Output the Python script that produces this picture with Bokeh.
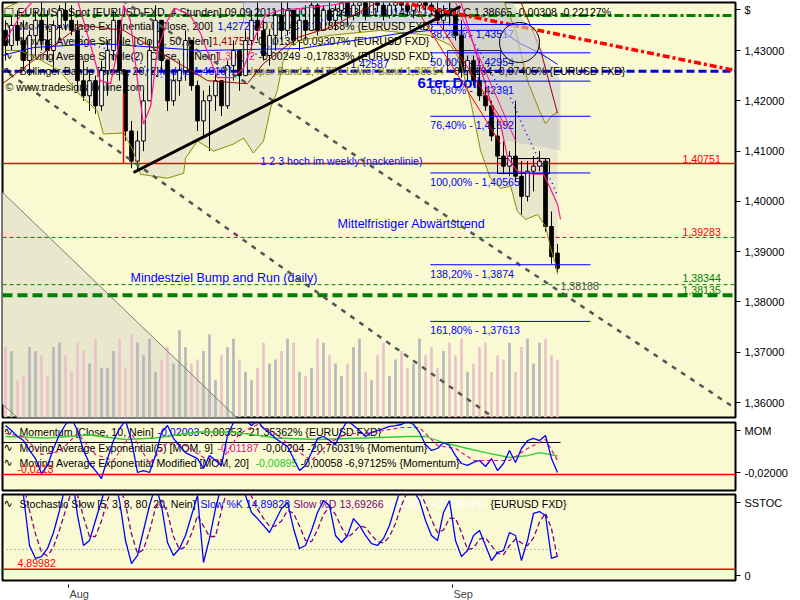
from bokeh.plotting import figure
from bokeh.layouts import column
from bokeh.models import Range1d, FixedTicker, Label, Span, CustomJSTickFormatter
from bokeh.embed import file_html
from bokeh.resources import INLINE

# ---------------- data: EUR/USD 4h candles (bar index 0..92) ----------------
opens = [1.4340,1.4310,1.4350,1.4320,1.4280,1.4330,1.4360,1.4320,1.4300,1.4350,
         1.4380,1.4360,1.4340,1.4240,1.4210,1.4240,1.4190,1.4260,1.4300,1.4360,
         1.4260,1.4140,1.4080,1.4120,1.4200,1.4300,1.4360,1.4280,1.4200,1.4240,
         1.4260,1.4320,1.4230,1.4160,1.4200,1.4210,1.4240,1.4190,1.4270,1.4300,
         1.4250,1.4320,1.4360,1.4340,1.4290,1.4330,1.4370,1.4340,1.4380,1.4320,
         1.4360,1.4340,1.4390,1.4340,1.4380,1.4360,1.4380,1.4400,1.4370,1.4390,
         1.4400,1.4370,1.4404,1.4390,1.4370,1.4390,1.4404,1.4390,1.4380,1.4390,
         1.4400,1.4390,1.4380,1.4360,1.4380,1.4370,1.4330,1.4260,1.4280,1.4240,
         1.4210,1.4190,1.4130,1.4090,1.4070,1.4090,1.4050,1.4010,1.4060,1.4070,
         1.4080,1.3950,1.3897]
highs = [1.4360,1.4370,1.4380,1.4360,1.4340,1.4380,1.4400,1.4380,1.4360,1.4390,
         1.4400,1.4390,1.4360,1.4280,1.4260,1.4250,1.4280,1.4320,1.4380,1.4360,
         1.4260,1.4160,1.4140,1.4220,1.4320,1.4390,1.4360,1.4280,1.4260,1.4280,
         1.4340,1.4320,1.4240,1.4220,1.4230,1.4260,1.4240,1.4280,1.4320,1.4300,
         1.4340,1.4380,1.4400,1.4360,1.4340,1.4380,1.4400,1.4400,1.4380,1.4370,
         1.4390,1.4400,1.4394,1.4390,1.4400,1.4390,1.4410,1.4404,1.4400,1.4410,
         1.4400,1.4410,1.4416,1.4400,1.4396,1.4410,1.4416,1.4400,1.4396,1.4410,
         1.4410,1.4400,1.4396,1.4390,1.4400,1.4380,1.4360,1.4290,1.4290,1.4280,
         1.4240,1.4200,1.4166,1.4120,1.4100,1.4200,1.4080,1.4080,1.4090,1.4100,
         1.4086,1.3980,1.3915]
lows = [1.4280,1.4300,1.4310,1.4260,1.4250,1.4290,1.4300,1.4280,1.4260,1.4320,
        1.4340,1.4330,1.4220,1.4200,1.4180,1.4174,1.4180,1.4210,1.4280,1.4240,
        1.4120,1.4066,1.4060,1.4100,1.4200,1.4300,1.4260,1.4180,1.4190,1.4210,
        1.4240,1.4220,1.4140,1.4130,1.4100,1.4180,1.4170,1.4184,1.4240,1.4220,
        1.4250,1.4300,1.4320,1.4280,1.4270,1.4300,1.4320,1.4330,1.4310,1.4300,
        1.4320,1.4340,1.4330,1.4340,1.4350,1.4340,1.4360,1.4350,1.4360,1.4370,
        1.4360,1.4370,1.4376,1.4360,1.4364,1.4376,1.4380,1.4370,1.4364,1.4376,
        1.4380,1.4370,1.4350,1.4340,1.4350,1.4320,1.4246,1.4240,1.4230,1.4200,
        1.4180,1.4120,1.4080,1.4054,1.4050,1.4040,1.3974,1.4000,1.4020,1.4060,
        1.3940,1.3876,1.3859]
closes = [1.4310,1.4350,1.4320,1.4280,1.4330,1.4360,1.4320,1.4300,1.4350,1.4380,
          1.4360,1.4340,1.4240,1.4210,1.4240,1.4190,1.4260,1.4300,1.4360,1.4260,
          1.4140,1.4080,1.4120,1.4200,1.4300,1.4360,1.4280,1.4200,1.4240,1.4260,
          1.4320,1.4230,1.4160,1.4200,1.4210,1.4240,1.4190,1.4270,1.4300,1.4250,
          1.4320,1.4360,1.4340,1.4290,1.4330,1.4370,1.4340,1.4380,1.4320,1.4360,
          1.4340,1.4390,1.4340,1.4380,1.4360,1.4380,1.4400,1.4370,1.4390,1.4400,
          1.4370,1.4404,1.4390,1.4370,1.4390,1.4404,1.4390,1.4380,1.4390,1.4400,
          1.4390,1.4380,1.4360,1.4380,1.4370,1.4330,1.4260,1.4280,1.4240,1.4210,
          1.4190,1.4130,1.4090,1.4070,1.4090,1.4050,1.4010,1.4060,1.4070,1.4080,
          1.3950,1.3890,1.3867]
volumes = [1700,1600,900,1000,1700,1600,1500,1000,1700,1800,
           1500,1100,1800,1600,1300,1900,1200,1200,1600,1900,
           1200,2000,1800,1500,1900,1100,1400,1700,1300,2100,
           1700,1300,1400,1600,2000,900,1500,1700,1900,1400,
           1100,900,1200,1800,1300,1400,1600,1900,1800,1100,
           1000,1200,1900,1800,1500,1300,1000,1300,1700,1900,
           1100,900,1500,1800,1000,1400,1600,1200,1300,1900,
           1500,1700,1200,1600,1800,1500,1900,1100,1300,1700,
           1800,1100,1500,1400,1800,1100,1700,1900,1300,1800,
           1900,1500,1400]

# Bollinger bands / moving averages (read at sparse bars)
bb_up_x = [0,5,10,15,20,25,30,35,40,45,50,55,60,65,70,75,80,83,85,87,89,90,91,92]
bb_up = [1.4385,1.4410,1.4420,1.4405,1.4440,1.4450,1.4430,1.4425,1.4435,1.4450,1.4440,1.4430,
         1.4425,1.4420,1.4420,1.4425,1.4415,1.4400,1.4340,1.4240,1.4180,1.4154,1.4170,1.4178]
bb_lo_x = [0,2.5,6,9,12.5,15.3,16.3,19.7,21.3,22.5,24.7,27,29.7,30,32,34.7,38,39.7,41.3,43,
           44.2,45.3,46.3,47.5,49.2,54,62.5,70.8,74.2,75.8,77.5,79.2,80.8,82.5,84.2,85.3,86.7,
           88.7,90,90.8,91.8,92]
bb_lo = [1.4300,1.4300,1.4280,1.4260,1.4210,1.4180,1.4134,1.4136,1.4100,1.4054,1.4050,1.4046,
         1.4056,1.4086,1.4120,1.4100,1.4114,1.4126,1.4096,1.4120,1.4186,1.4220,1.4280,1.4310,
         1.4320,1.4330,1.4340,1.4330,1.4310,1.4280,1.4200,1.4100,1.4046,1.4026,1.4030,1.3980,
         1.3964,1.3974,1.3950,1.3910,1.3870,1.3855]
bb_mid_x = [0,10,15,20,22,25,28,33,38,43,48,55,65,75,80,82,84,87,89,91,92]
bb_mid = [1.4340,1.4350,1.4310,1.4290,1.4280,1.4250,1.4240,1.4260,1.4270,1.4300,1.4340,1.4370,
          1.4380,1.4370,1.4280,1.4230,1.4210,1.4130,1.4080,1.4040,1.4011]
sma50_x = [-0.5,12.5,19.7,33.7,40.3,43,48.7,54.2,62.5,74.2,85.8,89.2,92]
sma50 = [1.4234,1.4350,1.4340,1.4240,1.4234,1.4274,1.4326,1.4346,1.4399,1.4415,1.4399,1.4300,1.4175]
ema200_x = [-0.5,4.7,15.8,32.5,49.2,54.7,65.8,70.8,82.5,85.8,89.2,92]
ema200 = [1.4290,1.4306,1.4314,1.4300,1.4304,1.4314,1.4334,1.4340,1.4340,1.4314,1.4294,1.42725]
sma9_x = [0,2.5,4.7,8.3,12,14.2,15.8,17.5,18.7,19.7,20.8,22,23,24.2,25.3,27,28.3,30.8,32.5,35.3,
          38,39.7,41.7,43.3,45.8,49.2,54.2,59.2,65.8,72.5,75.8,78.3,81.3,82.5,83.7,85.3,88,89.7,
          90.8,92,92.5]
sma9 = [1.4320,1.4370,1.4400,1.4410,1.4400,1.4310,1.4240,1.4234,1.4300,1.4390,1.4360,1.4240,
        1.4154,1.4190,1.4300,1.4360,1.4384,1.4370,1.4334,1.4246,1.4246,1.4266,1.4330,1.4370,
        1.4380,1.4384,1.4390,1.4400,1.4410,1.4410,1.4400,1.4300,1.4180,1.4154,1.4086,1.4060,
        1.4054,1.4054,1.4026,1.3994,1.3964]

# Momentum panel
momentum = [0.0113,0.0080,0.0040,0.0013,-0.0053,-0.0107,-0.0207,-0.0153,-0.0040,0.0053,
            0.0120,0.0160,0.0080,-0.0053,-0.0140,-0.0187,-0.0240,-0.0107,0.0013,0.0093,
            0.0147,0.0013,-0.0200,-0.0187,-0.0200,-0.0087,0.0067,0.0113,0.0027,-0.0020,
            -0.0067,-0.0087,-0.0107,-0.0173,-0.0087,-0.0120,-0.0153,0.0047,0.0133,0.0160,
            0.0147,0.0113,0.0147,0.0093,0.0067,0.0027,0.0000,-0.0027,-0.0107,-0.0187,
            -0.0153,-0.0067,0.0027,0.0040,0.0013,-0.0013,0.0080,0.0147,0.0113,0.0080,
            0.0040,0.0067,0.0080,0.0093,0.0107,0.0113,0.0120,0.0140,0.0120,0.0067,
            -0.0013,-0.0053,-0.0040,0.0000,-0.0020,-0.0087,-0.0140,-0.0153,-0.0133,-0.0120,
            -0.0160,-0.0107,-0.0187,-0.0140,-0.0053,-0.0133,-0.0040,0.0013,0.0027,0.0013,
            0.0047,-0.0107,-0.0200]
mom_ema_x = [0,3,6,9,12,15,18,21,24,27,30,33,36,39,42,45,48,51,54,57,60,63,66,69,72,75,78,81,84,87,90,92]
mom_ema = [0.006,0.004,-0.008,-0.006,0.006,-0.008,-0.012,0.006,-0.014,0.000,-0.002,-0.010,-0.012,
           0.006,0.012,0.006,-0.004,-0.012,0.000,0.006,0.006,0.008,0.010,0.010,-0.002,-0.004,
           -0.012,-0.012,-0.012,-0.004,0.002,-0.0119]
mom_ma_x = [0,7,14,20,25,32,38,45,52,60,67,70,73,77,80,84,87,89,92]
mom_ma = [0.004,0.003,0.005,0.002,0.003,0.007,0.007,0.003,0.002,0.003,0.004,0.004,0.000,-0.004,
          -0.0067,-0.010,-0.0087,-0.0067,-0.0090]
mom_low = -0.0213

# Stochastic panel
stoch_k = [80.8,76.9,69.2,61.5,23.1,13.1,14.6,20.8,33.1,50.0,
           69.2,80.8,46.2,23.1,26.9,42.3,57.7,73.1,76.9,57.7,
           26.9,9.2,15.4,34.6,53.8,69.2,53.8,25.4,15.4,20.8,
           30.8,46.2,61.5,10.0,28.5,51.5,69.2,80.8,76.9,73.1,
           61.5,48.5,43.8,38.5,33.1,42.3,51.5,56.2,36.2,20.8,
           23.1,34.6,48.5,57.7,53.8,30.8,25.4,30.8,43.8,38.5,
           30.8,24.6,23.1,28.5,38.5,53.8,69.2,73.1,65.4,57.7,
           42.3,30.8,26.9,48.5,57.7,26.9,14.6,19.2,30.8,34.6,
           23.1,11.5,17.7,19.2,33.1,30.8,11.5,26.9,47.7,49.2,
           46.2,13.1,14.9]
stoch_d = [75,78,76,70,50,32,18,15,22,35,
           50,65,62,45,30,30,42,58,69,70,
           55,32,17,20,34,52,58,48,30,20,
           22,32,46,38,30,30,50,67,76,77,
           70,61,51,44,38,38,42,50,48,38,
           27,26,35,47,53,47,37,29,33,38,
           37,31,26,25,30,40,54,65,69,65,
           55,43,33,35,44,44,33,20,21,28,
           29,23,17,16,23,28,25,23,29,41,
           48,36,13.7]
stoch_low = 4.89982
stoch_mid = 20

# levels and drawings (bar index, price)
neckline = 1.40751
target_red = 1.39283
target_g1 = 1.38344
target_g2 = 1.38135
target_grey = 1.38188
blue_level = 1.42587
green_top = 1.43696
fib_pct = ["38,20%", "50,00%", "61,80%", "76,40%", "100,00%", "138,20%", "161,80%"]
fib_val = [1.43517, 1.42954, 1.42391, 1.41692, 1.40565, 1.38740, 1.37613]
fib_txt = ["1,43517", "1,42954", "1,42391", "1,41692", "1,40565", "1,3874", "1,37613"]
fib_x = [70.8, 97.5]
trend_x = [21.33, 75.83]; trend_y = [1.40574, 1.43875]
diag1_x = [-0.83, 82.5]; diag1_y = [1.42662, 1.35603]
diag2_x = [19.5, 121.67]; diag2_y = [1.43994, 1.35881]
chanA_x = [-0.83, 38.67]; chanA_y = [1.40216, 1.35682]
chanB_x = [-0.83, 2.17]; chanB_y = [1.36000, 1.35682]
reddd_x = [62.5, 121.67]; reddd_y = [1.44040, 1.42602]
redv_x = [19.67, 19.67]; redv_y = [1.42145, 1.40751]
redA_x = [70.83, 83.33]; redA_y = [1.43795, 1.41509]
redB_x = [67.83, 82.5]; redB_y = [1.43954, 1.41151]
pinkC_x = [75.0, 85.0]; pinkC_y = [1.43954, 1.41210]
gch_x = [70.5, 84.5, 92.5, 92.5, 83.33]; gch_y = [1.43954, 1.43954, 1.42403, 1.41012, 1.41210]
circ_x = [85.67]; circ_y = [1.43159]
price_ticks = [1.36, 1.37, 1.38, 1.39, 1.40, 1.41, 1.42, 1.43]
month_ticks = [10.5, 74.5]
month_labels = ["Aug", "Sep"]

# ---------------- geometry helpers (pixel -> data, for annotation placement) ----------------
def PX(px): return (px - 5) / 6.0
def PY(py): return 1.43 - (py - 50) / 5029.0
def MY(py): return (442 - py) / 1500.0
def SY(py): return (575 - py) / 1.3

FONT = "Liberation Sans"
FS = "10.6px"
BG = "#fafad2"
n = len(closes)
idx = list(range(n))
xr = Range1d(PX(2), PX(735))

def fmt5(v): return f"{v:.5f}".replace(".", ",")

def make_fig(fh, top, bottom, y_start, y_end, xloc=None):
    f = figure(frame_width=733, frame_height=fh, min_border_left=2, min_border_right=63,
               min_border_top=top, min_border_bottom=bottom, x_range=xr,
               y_range=Range1d(y_start, y_end), y_axis_location="right", x_axis_location=xloc,
               toolbar_location=None, output_backend="svg", background_fill_color=BG,
               border_fill_color="white")
    f.grid.visible = False
    f.outline_line_color = "black"
    f.outline_line_width = 2
    ax = f.yaxis[0]
    ax.axis_line_color = None
    ax.major_tick_in = 0
    ax.major_tick_out = 5
    ax.minor_tick_line_color = None
    ax.major_label_standoff = 4
    ax.major_label_text_font = FONT
    ax.major_label_text_font_size = "11px"
    ax.major_label_text_color = "black"
    return f

def lab(fig, x, y, txt, color="black", size=FS, style="normal", level="underlay", font=FONT):
    fig.add_layout(Label(x=x, y=y, text=txt, text_color=color, text_font=font,
                         text_font_size=size, text_font_style=style,
                         text_baseline="middle", text_align="left", level=level))

# ================= main price panel =================
m = make_fig(415, 2, 2, PY(417), PY(2))
title_tick = PY(9)
m.yaxis.ticker = FixedTicker(ticks=price_ticks + [title_tick])
m.yaxis.formatter = CustomJSTickFormatter(
    args=dict(tt=title_tick),
    code="if (Math.abs(tick - tt) < 1e-6) { return '$'; } return tick.toFixed(5).replace('.', ',');")
m.extra_y_ranges = {"vol": Range1d(0, 10000)}

up = [c >= o for o, c in zip(opens, closes)]
body_top = [max(o, c) for o, c in zip(opens, closes)]
body_bot = [min(o, c) for o, c in zip(opens, closes)]
body_fill = ["white" if u else "black" for u in up]
vol_col = ["#b7b7bf" if u else "#ebc2cb" for u in up]

# fills (lowest level)
m.patch(bb_up_x + bb_lo_x[::-1], bb_up + bb_lo[::-1], fill_color="#e9e7cc", line_color=None, level="image")
m.patch(chanA_x + chanB_x[::-1], chanA_y + chanB_y[::-1], fill_color="#e9e7cc", line_color=None, level="image")
m.patch(gch_x, gch_y, fill_color="#c4c4c8", fill_alpha=0.55, line_color=None, level="image")
m.quad(left=[39.67], right=[74.17], top=[1.43954], bottom=[1.43557], fill_color="#d6d8e4",
       line_color="#9a9aa8", level="image")
m.quad(left=[73.67], right=[82.5], top=[1.43], bottom=[1.42602], fill_color="#c8c8c8",
       fill_alpha=0.5, line_color="#303030", level="image")
m.quad(left=[82.0], right=[90.67], top=[1.40852], bottom=[1.40554], fill_color="#c8c8c8",
       fill_alpha=0.4, line_color="black", level="image")
m.vbar(x=idx, top=volumes, bottom=0, width=0.45, fill_color=vol_col, line_color=None,
       y_range_name="vol", level="image")

# horizontal levels
for loc, col, w, dash in [(neckline, "#ff0000", 1.5, "solid"), (target_red, "#ff0000", 1, "4 3"),
                          (target_g1, "#008000", 1, "4 3"), (target_g2, "#008000", 4, "10 5"),
                          (blue_level, "#0000e0", 3, "8 4"), (green_top, "#008000", 3, "9 3 3 3")]:
    m.add_layout(Span(location=loc, dimension="width", line_color=col, line_width=w,
                      line_dash=dash, level="underlay"))

# header texts (drawn below candles)
lab(m, PX(3), PY(11), "□", size="11px", font="DejaVu Sans")
lab(m, PX(17), PY(11), "EUR/USD Spot [EURUSD FXD, 4 Stunden] 09.09.2011 12:00 O 1,38973 H 1,39145 "
    "L 1,38587 C 1,38665 -0,00308 -0,22127%")
hdr_main = [
    (25, [(19, "Moving Average Exponential [Close, 200]", "black"), (217, "1,42725", "#0000ff"),
          (258, "-0,00041 -0,02858% {EURUSD FXD}", "black")]),
    (40, [(19, "Moving Average Simple [Close, 50, Nein]", "black"), (212, "1,41751", "#a00000"),
          (254, "-0,00132 -0,09307% {EURUSD FXD}", "black")]),
    (55, [(19, "Moving Average Simple(2) [Close, 9, Nein]", "black"), (216, "1,39032", "#ff1493"),
          (258, "-0,00249 -0,17833% {EURUSD FXD}", "black")]),
    (70, [(19, "Bollinger Bands [Close, 20, 2]", "black"), (159, "Middle 1,40107", "#0000ff"),
          (245, "Upper Band 1,41781 Lower Band 1,38554", "#808000"),
          (450, "-0,00104 -0,07405% {EURUSD FXD}", "black")]),
]
for py, segs in hdr_main:
    lab(m, PX(3), PY(py), "∿", size="11px", font="DejaVu Sans")
    for px, t, c in segs:
        lab(m, PX(px), PY(py), t, c)
lab(m, PX(5), PY(86), "© www.tradesignalonline.com")

# fib labels and annotations
for pct, v, t in zip(fib_pct, fib_val, fib_txt):
    lab(m, fib_x[0], v - 9 / 5029.0, f"{pct} - {t}", "#0000ff")
lab(m, PX(260), PY(160), "1 2 3 hoch im weekly (nackenlinie)", "#0000ff")
lab(m, PX(337), PY(223), "Mittelfristiger Abwärtstrend", "#0000ff", size="12.5px")
lab(m, PX(130), PY(277), "Mindestziel Bump and Run (daily)", "#0000ff", size="12.5px")
lab(m, PX(350), PY(63), fmt5(blue_level), "#0000ff")
lab(m, PX(417), PY(82), "61er Doll", "#0000ff", size="15px", style="bold")

# candles
m.segment(x0=idx, y0=lows, x1=idx, y1=highs, line_color="black", line_width=1)
m.vbar(x=idx, top=body_top, bottom=body_bot, width=0.6, fill_color=body_fill, line_color="black",
       line_width=1)

# indicator lines
m.line(bb_up_x, bb_up, line_color="#8c8c00", line_width=1)
m.line(bb_lo_x, bb_lo, line_color="#8c8c00", line_width=1)
m.line(bb_mid_x, bb_mid, line_color="#0000ff", line_width=1.5, line_dash="1 4")
m.line(ema200_x, ema200, line_color="#0000ff", line_width=1)
m.line(sma50_x, sma50, line_color="#a00000", line_width=1)
m.line(sma9_x, sma9, line_color="#ff1493", line_width=1.2)

# drawings
m.line(chanA_x, chanA_y, line_color="#7a7a7a", line_width=1)
m.line(chanB_x, chanB_y, line_color="#7a7a7a", line_width=1)
m.line(diag1_x, diag1_y, line_color="#555555", line_width=2.5, line_dash="5 6")
m.line(diag2_x, diag2_y, line_color="#555555", line_width=2.5, line_dash="5 6")
m.line(redA_x, redA_y, line_color="#ff0000", line_width=1)
m.line(redB_x, redB_y, line_color="#ff0000", line_width=1)
m.line(pinkC_x, pinkC_y, line_color="#ff1493", line_width=1)
m.line(redv_x, redv_y, line_color="#ff0000", line_width=1.5)
m.line(trend_x, trend_y, line_color="black", line_width=3)
m.line(reddd_x, reddd_y, line_color="#ff0000", line_width=3.5, line_dash="7 3 3 3")
m.scatter(circ_x, circ_y, marker="circle", size=40, fill_color="#d4d4d4", fill_alpha=0.6,
          line_color="black", line_width=1)
m.segment(x0=[fib_x[0]] * len(fib_val), x1=[fib_x[1]] * len(fib_val), y0=fib_val,
          y1=fib_val, line_color="#0000ff", line_width=1)

# right-side value labels
lab(m, PX(682), PY(158), fmt5(neckline), "#ff0000", level="annotation")
lab(m, PX(682), PY(231), fmt5(target_red), "#ff0000", level="annotation")
lab(m, PX(682), PY(277), fmt5(target_g1), "#008000", level="annotation")
lab(m, PX(682), PY(289), fmt5(target_g2), "#008000", level="annotation")
lab(m, PX(560), PY(285), fmt5(target_grey), "#505050", level="annotation")

# ================= momentum panel =================
mo = make_fig(68, 3, 2, MY(490), MY(422))
mom_title = MY(430)
mo.yaxis.ticker = FixedTicker(ticks=[-0.02, mom_title])
mo.yaxis.formatter = CustomJSTickFormatter(
    args=dict(tt=mom_title),
    code="if (Math.abs(tick - tt) < 1e-9) { return 'MOM'; } return tick.toFixed(5).replace('.', ',');")
mo.add_layout(Span(location=mom_low, dimension="width", line_color="#ff0000", line_width=1.5,
                   level="underlay"))
hdr_mom = [
    (431, [(19, "Momentum [Close, 10, Nein]", "black"), (157, "-0,02003", "#0000ff"),
           (200, "-0,00353 -21,35362% {EURUSD FXD}", "black")]),
    (447, [(19, "Moving Average Exponential(5) [MOM, 9]", "black"), (217, "-0,01187", "#e0108a"),
           (262, "-0,00204 -20,76031% {Momentum}", "black")]),
    (462, [(19, "Moving Average Exponential Modified [MOM, 20]", "black"), (255, "-0,00895", "#22cc22"),
           (300, "-0,00058 -6,97125% {Momentum}", "black")]),
]
for py, segs in hdr_mom:
    lab(mo, PX(3), MY(py), "∿", size="11px", font="DejaVu Sans")
    for px, t, c in segs:
        lab(mo, PX(px), MY(py), t, c)
lab(mo, PX(17), MY(468), "-0,0213", "#ff0000")
mo.line([idx[0] - 0.5, idx[-1] + 0.5], [0, 0], line_color="black", line_width=1.2)
mo.line(mom_ma_x, mom_ma, line_color="#33cc33", line_width=1.3)
mo.line(mom_ema_x, mom_ema, line_color="#e0108a", line_width=1.2, line_dash="4 3")
mo.line(idx, momentum, line_color="#0000ff", line_width=1.3)

# ================= stochastic panel =================
st = make_fig(86, 2, 20, SY(580), SY(494), xloc="below")
st_title = SY(502)
st.yaxis.ticker = FixedTicker(ticks=[0, st_title])
st.yaxis.formatter = CustomJSTickFormatter(
    args=dict(tt=st_title),
    code="if (Math.abs(tick - tt) < 1e-6) { return 'SSTOC'; } return tick.toFixed(0);")
xa = st.xaxis[0]
xa.ticker = FixedTicker(ticks=month_ticks)
nb = "\u00a0" * 7
xa.major_label_overrides = {t: nb + lbl for t, lbl in zip(month_ticks, month_labels)}
xa.axis_line_color = None
xa.major_tick_in = -4
xa.major_tick_out = 7
xa.minor_tick_line_color = None
xa.major_label_text_font = FONT
xa.major_label_text_font_size = "11px"
xa.major_label_standoff = 0
st.add_layout(Span(location=stoch_low, dimension="width", line_color="#ff0000", line_width=1.5,
                   level="underlay"))
st.line([idx[0] - 0.5, idx[-1] + 0.5], [stoch_mid, stoch_mid], line_color="#808080",
        line_width=1, line_dash="1 3")
lab(st, PX(3), SY(503), "∿", size="11px", font="DejaVu Sans")
for px, t, c in [(19, "Stochastic Slow [5, 3, 3, 80, 20, Nein]", "black"),
                 (200, "Slow %K 14,89828", "#0000ff"), (293, "Slow %D 13,69266", "#800080"),
                 (383, "+0,50456 +3,60521%", "white"), (490, "{EURUSD FXD}", "black")]:
    lab(st, PX(px), SY(503), t, c)
lab(st, PX(17), SY(562), "4,89982", "#ff0000")
st.line(idx, stoch_d, line_color="#800080", line_width=1.3, line_dash="5 3")
st.line(idx, stoch_k, line_color="#0000ff", line_width=1.3)

layout = column(m, mo, st, spacing=0)
TEMPLATE = "{% block postamble %}<style>html, body {margin: 0 !important; padding: 0 !important;}</style>{% endblock %}"
open("out.html", "w").write(file_html(layout, INLINE, title="EUR/USD", template=TEMPLATE))
